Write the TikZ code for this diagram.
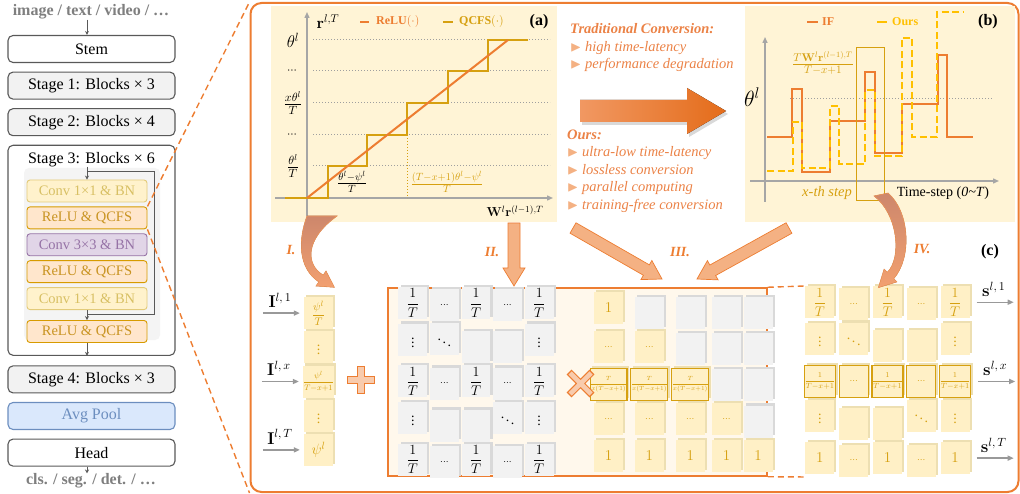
\documentclass[tikz,border=0pt]{standalone}
\usepackage{fix-cm}
\usepackage{amsmath,amssymb}
\usepackage[no-math]{fontspec}
\setmainfont{Liberation Serif}
\usetikzlibrary{arrows.meta,calc,matrix,shadows,positioning}

\definecolor{qorange}{HTML}{ED7D31}
\definecolor{qgold}{RGB}{214,160,16}
\definecolor{qyellow}{HTML}{FFC000}
\definecolor{salmon}{HTML}{F4B183}
\definecolor{plusfill}{HTML}{F8CBAD}
\definecolor{curvetop}{RGB}{205,135,108}
\definecolor{curvebot}{RGB}{242,160,112}
\definecolor{arrowlight}{RGB}{241,152,98}
\definecolor{arrowdark}{RGB}{228,108,26}
\definecolor{cream}{HTML}{FFF8EC}
\definecolor{panelbg}{HTML}{FFF4D6}
\definecolor{cellyel}{HTML}{FFF0C6}
\definecolor{shadeyel}{HTML}{EDDFB2}
\definecolor{cellgray}{HTML}{F2F2F2}
\definecolor{innergray}{HTML}{F4F4F4}
\definecolor{shadegray}{HTML}{D9D9D9}
\definecolor{edgegray}{HTML}{595959}
\definecolor{txtgray}{HTML}{7F7F7F}
\definecolor{axisgray}{HTML}{A6A6A6}
\definecolor{convfill}{HTML}{FFF2CC}
\definecolor{convedge}{HTML}{E3CB7A}
\definecolor{convtxt}{HTML}{D8C064}
\definecolor{relufill}{HTML}{FFE6CC}
\definecolor{reluedge}{HTML}{D79B00}
\definecolor{relutxt}{HTML}{C99422}
\definecolor{purpfill}{HTML}{E1D5E7}
\definecolor{purpedge}{HTML}{9673A6}
\definecolor{poolfill}{HTML}{DAE8FC}
\definecolor{pooledge}{HTML}{6C8EBF}
\definecolor{notetxt}{HTML}{EB8246}

\newcommand{\fsz}[1]{\fontsize{#1}{#1}\selectfont}
\newcommand{\tri}{\textcolor{salmon}{$\blacktriangleright$}}
\newcommand{\tdots}{{\scriptstyle\cdots}}

\begin{document}
\begin{tikzpicture}[x=1pt, y=-1pt, every node/.style={inner sep=0pt},
    stagebox/.style={draw=edgegray, fill=white, line width=1.1pt, rounded corners=5pt,
      minimum width=167pt, minimum height=27pt, font=\fsz{16}},
    blockbox/.style={rounded corners=3pt, line width=0.9pt, minimum width=120pt,
      minimum height=22pt, font=\fsz{14.5}},
    convbox/.style={blockbox, fill=convfill, draw=convedge, text=convtxt},
    relubox/.style={blockbox, fill=relufill, draw=reluedge, text=relutxt},
    purpbox/.style={blockbox, fill=purpfill, draw=purpedge, text=purpedge},
    flow/.style={draw=edgegray, line width=0.8pt, -{Stealth[length=4pt,width=4pt]}},
    zoomline/.style={draw=qorange, line width=1.4pt, dash pattern=on 6pt off 4pt},
    panel/.style={fill=panelbg, minimum height=216pt},
    axisline/.style={draw=axisgray, line width=1.4pt, -{Triangle[length=6pt,width=5pt]}},
    gridline/.style={draw=gray!75, line width=1pt, dotted},
    reluline/.style={draw=qorange, line width=2pt},
    qcfsline/.style={draw=qgold, line width=2.4pt},
    ifline/.style={draw=qorange, line width=2.4pt},
    oursline/.style={draw=qyellow, line width=2.4pt, dash pattern=on 7pt off 3.5pt},
    legendtxt/.style={anchor=west, font=\fsz{12}\bfseries},
    paneltag/.style={font=\fsz{16}\bfseries},
    note/.style={anchor=west, align=left, text=notetxt, font=\fontsize{14.5}{17.5}\selectfont\itshape},
    steplabel/.style={text=qorange, font=\fsz{14}\bfseries\itshape},
    bigarrow/.style={fill=salmon, draw=qorange, line width=0.7pt},
    curvearrow/.style={top color=curvetop, bottom color=curvebot, draw=qorange!80, line width=0.6pt},
    inarrow/.style={draw=gray!80, line width=1.4pt, -{Triangle[length=6pt,width=5pt]}},
    cellmat/.style={matrix of math nodes, nodes in empty cells, column sep=2.8pt, row sep=2.2pt},
    basecell/.style={minimum width=28.8pt, minimum height=32pt, font=\fsz{14}},
    gcell/.style={basecell, fill=cellgray, text=black,
      general shadow={fill=shadegray, shadow xshift=2.2pt, shadow yshift=2.2pt}},
    ycell/.style={basecell, fill=cellyel, text=qgold,
      general shadow={fill=shadeyel, shadow xshift=2.2pt, shadow yshift=2.2pt}},
    hlcell/.style={ycell, draw=qgold, line width=1.1pt, font=\fsz{6}}]
  \useasboundingbox (0,0) rectangle (1020,494);

  % backbone
  \node (input) [text=txtgray, font=\fsz{16}\bfseries] at (91,12) {image / text / video / …};
  \node (stem) [stagebox] at (91.5,49) {Stem};
  \node (stage1) [stagebox, fill=cellgray, below=8.5pt of stem] {Stage 1: Blocks × 3};
  \node (stage2) [stagebox, fill=cellgray, below=8.5pt of stage1] {Stage 2: Blocks × 4};
  \node (stage3) [stagebox, minimum height=210pt, below=8.5pt of stage2] {};
  \node (st3title) [font=\fsz{16}, below=7pt of stage3.north] {Stage 3: Blocks × 6};
  \fill[innergray, rounded corners=5pt] (24,168) rectangle (160,340);
  \node (conv1a) [convbox] at (87,191) {Conv 1×1 \& BN};
  \node (relu1) [relubox, below=4pt of conv1a] {ReLU \& QCFS};
  \node (conv3) [purpbox, below=4pt of relu1] {Conv 3×3 \& BN};
  \node (relu2) [relubox, below=4pt of conv3] {ReLU \& QCFS};
  \node (conv1b) [convbox, below=4pt of relu2] {Conv 1×1 \& BN};
  \node (relu3) [relubox, below=10pt of conv1b] {ReLU \& QCFS};
  \node (stage4) [stagebox, fill=cellgray, below=9.5pt of stage3] {Stage 4: Blocks × 3};
  \node (pool) [stagebox, fill=poolfill, draw=pooledge, text=pooledge, below=8.5pt of stage4] {Avg Pool};
  \node (head) [stagebox, below=8.5pt of pool] {Head};
  \node (output) [text=txtgray, font=\fsz{16}\bfseries] at (91,481) {cls. / seg. / det. / …};

  % backbone arrows
  \draw[flow] (input.south -| conv1a) -- (stem.north -| conv1a);
  \draw[flow] (st3title.south -| conv1a) -- (conv1a);
  \coordinate (split) at ($(conv1a.north)+(0,-8)$);
  \coordinate (merge) at ($(conv1b.south)+(0,4)$);
  \draw[draw=edgegray, line width=0.8pt] (split) -| ($(conv1b.south east)+(7,4)$) -- (merge);
  \draw[flow] (conv1b) -- (relu3);
  \draw[flow] (relu3) -- (stage3.south -| relu3);
  \draw[flow] (head.south -| conv1a) -- (output.north -| conv1a);

  % zoom-in frame
  \node (frame) [draw=qorange, line width=2pt, rounded corners=11pt,
    minimum width=768pt, minimum height=489pt] at (634.5,247.5) {};
  \draw[zoomline] (relu1.north east) -- (frame.north west);
  \draw[zoomline] (relu1.south east) -- (frame.south west);

  % (a) ReLU vs QCFS
  \node (pa) [panel, minimum width=286pt] at (414,114) {};
  \foreach \y in {40,71,103,135,166} \draw[gridline] (313,\y) -- (550,\y);
  \draw[axisline] (275,198) -- (553,198);
  \draw[axisline] (307,216) -- (307,12);
  \draw[qcfsline] (285,198) -- (328,198) |- (367,166) |- (407,135) |- (448,103) |- (488,71) |- (528,40);
  \draw[reluline] (307,198) -- (508,40);
  \draw[qgold, line width=1pt, dotted] (407,135) -- (407,198);
  \foreach \y/\lab [count=\i] in {40/{\theta^l}, 71/{\scriptstyle\cdots}, 103/{\frac{x\theta^l}{T}}, 135/{\scriptstyle\cdots}, 166/{\frac{\theta^l}{T}}}
    \node (ylab\i) [font=\fsz{17}] at (293,\y) {$\lab$};
  \node (rlab) [font=\fsz{16}] at (328,22) {$\mathbf{r}^{l,T}$};
  \node (wlab) [font=\fsz{13}] at (515,211) {$\mathbf{W}^l\mathbf{r}^{(l-1),T}$};
  \node (flab1) [font=\fsz{15}] at (352,182) {$\frac{\theta^l-\psi^l}{T}$};
  \node (flab2) [font=\fsz{15}, text=qgold] at (447,182) {$\frac{(T-x+1)\theta^l-\psi^l}{T}$};
  \draw[reluline] (360,22) -- (369,22);
  \node (lrelu) [legendtxt, text=qorange] at (376,22) {ReLU$(\cdot)$};
  \draw[qcfsline] (443,22) -- (453,22);
  \node (lqcfs) [legendtxt, text=qgold] at (459,22) {QCFS$(\cdot)$};
  \node (taga) [paneltag] at (539,22) {(a)};

  % conversion notes
  \node (trad) [note] at (570,48) {\textbf{Traditional Conversion:}\\\tri\ high time-latency\\\tri\ performance degradation};
  \node (ours) [note] at (567,171) {\textbf{Ours:}\\\tri\ ultra-low time-latency\\\tri\ lossless conversion\\\tri\ parallel computing\\\tri\ training-free conversion};
  \fill[left color=arrowlight, right color=arrowdark,
    drop shadow={opacity=0.3, shadow xshift=2pt, shadow yshift=-3pt}]
    (580,100) -- (687,100) -- (687,88) -- (726,111) -- (687,134) -- (687,122) -- (580,122) -- cycle;

  % (b) IF neuron vs ours
  \node (pb) [panel, minimum width=270pt] at (880,114) {};
  \draw[gridline] (790,99) -- (992,99);
  \draw[axisline] (750,181) -- (999,181);
  \draw[axisline] (765,202) -- (765,37);
  \draw[ifline] (767,137) -| (792,89) -| (802,172) -| (830,121) -| (865,72) -| (875,153)
    -| (902,104) -| (938,55) -| (947,137) -- (973,137);
  \draw[oursline] (767,171) -| (793,122) -| (802,168) -| (830,106) -| (839,164) -| (865,90)
    -| (875,156) -| (902,38) -| (912,137) -| (937,12) -- (963,12);
  \draw[qgold, line width=0.9pt] (856,47) rectangle (884,200);
  \node (frb) [font=\fsz{16}, text=qgold] at (823,63) {$\frac{T\mathbf{W}^l\mathbf{r}^{(l-1),T}}{T-x+1}$};
  \node (thb) [font=\fsz{22}] at (752,97) {$\theta^l$};
  \node (xstep) [font=\fsz{14.5}\itshape, text=qgold] at (827,193) {x-th step};
  \node (tstep) [font=\fsz{14}] at (943,193) {Time-step (\textit{0\textasciitilde T})};
  \draw[ifline] (807,22) -- (818,22);
  \node (lif) [legendtxt, text=qorange] at (822,22) {IF};
  \draw[qyellow, line width=2.4pt] (877,22) -- (887,22);
  \node (lours) [legendtxt, text=qyellow] at (892,22) {Ours};
  \node (tagb) [paneltag] at (988,22) {(b)};

  % (c) parallel conversion
  \node (mbox) [draw=qorange, fill=cream, line width=1.5pt, minimum width=379pt,
    minimum height=188pt] at (577.5,382) {};
  \matrix (vec) [cellmat, nodes={ycell}] at (318.5,381.5) {
    |[font=\fsz{11}]| \dfrac{\psi^l}{T} \\
    \vdots \\
    |[font=\fsz{8}]| \dfrac{\psi^l}{T{-}x{+}1} \\
    \vdots \\
    |[font=\fsz{15}]| \psi^l \\
  };
  \matrix (m1) [cellmat, nodes={gcell}] at (476,382.5) {
    \dfrac{1}{T} & \tdots & \dfrac{1}{T} & \tdots & \dfrac{1}{T} \\
    \vdots & \ddots & & & \vdots \\
    \dfrac{1}{T} & \tdots & \dfrac{1}{T} & \tdots & \dfrac{1}{T} \\
    \vdots & & & \ddots & \vdots \\
    \dfrac{1}{T} & \tdots & \dfrac{1}{T} & \tdots & \dfrac{1}{T} \\
  };
  \matrix (m2) [cellmat, nodes={ycell}] at (681,382) {
    |[font=\fsz{15}]| 1 & |[gcell]| & |[gcell]| & |[gcell]| & |[gcell]| \\
    \tdots & \tdots & |[gcell]| & |[gcell]| & |[gcell]| \\
    |[hlcell]| \dfrac{T}{x(T{-}x{+}1)} & |[hlcell]| \dfrac{T}{x(T{-}x{+}1)} & |[hlcell]| \dfrac{T}{x(T{-}x{+}1)} & |[gcell]| & |[gcell]| \\
    \tdots & \tdots & \tdots & \tdots & |[gcell]| \\
    |[font=\fsz{15}]| 1 & |[font=\fsz{15}]| 1 & |[font=\fsz{15}]| 1 & |[font=\fsz{15}]| 1 & |[font=\fsz{15}]| 1 \\
  };
  \matrix (m3) [cellmat, nodes={ycell}] at (887.5,381.5) {
    \dfrac{1}{T} & \tdots & \dfrac{1}{T} & \tdots & \dfrac{1}{T} \\
    \vdots & \ddots & & & \vdots \\
    |[hlcell, font=\fsz{7.5}]| \dfrac{1}{T{-}x{+}1} & |[hlcell, font=\fsz{14}]| \tdots & |[hlcell, font=\fsz{7.5}]| \dfrac{1}{T{-}x{+}1} & |[hlcell, font=\fsz{14}]| \tdots & |[hlcell, font=\fsz{7.5}]| \dfrac{1}{T{-}x{+}1} \\
    \vdots & & & \ddots & \vdots \\
    |[font=\fsz{15}]| 1 & \tdots & |[font=\fsz{15}]| 1 & \tdots & |[font=\fsz{15}]| 1 \\
  };
  \draw[zoomline] (mbox.north east) -- (m3.north west);
  \draw[zoomline] (mbox.south east) -- (m3.south west);

  % plus and times
  \draw[qorange, line width=8.5pt] (347,380) -- (375,380) (361,366) -- (361,394);
  \draw[plusfill, line width=6pt] (348.2,380) -- (373.8,380) (361,367.2) -- (361,392.8);
  \draw[qorange, line width=7pt] (569,372) -- (592,395) (592,372) -- (569,395);
  \draw[plusfill, line width=4.6pt] (570,373) -- (591,394) (591,373) -- (570,394);

  % inputs and outputs
  \foreach \r/\s in {1/{1}, 3/{x}, 5/{T}} {
    \node (in\r) [font=\fsz{17}] at ($(vec-\r-1.west)+(-24,-13)$) {$\mathbf{I}^{l,\,\s}$};
    \draw[inarrow] ($(vec-\r-1.west)+(-41,0)$) -- ($(vec-\r-1.west)+(-4,0)$);
    \node (out\r) [font=\fsz{17}] at ($(m3-\r-5.east)+(24,-13)$) {$\mathbf{s}^{l,\,\s}$};
    \draw[inarrow] ($(m3-\r-5.east)+(7,0)$) -- ($(m3-\r-5.east)+(44,0)$);
  }

  % arrows I-IV
  \filldraw[curvearrow] (307,216) .. controls (298,240) and (298,268) .. (318.8,281.9)
    -- (316,286) -- (334.4,287.3) -- (326,271) -- (323.2,275.1)
    .. controls (306,265) and (304,240) .. (337,216) -- cycle;
  \filldraw[curvearrow] (874,196) .. controls (898,214) and (902,258) .. (887.3,272.3)
    -- (884.1,269.1) -- (878.4,287.6) -- (896.9,281.9) -- (893.7,278.7)
    .. controls (912,258) and (910,212) .. (888,193) -- cycle;
  \coordinate (IIs) at (514,223);
  \coordinate (IIe) at (514,286);
  \coordinate (IIIas) at (573,228);
  \coordinate (IIIae) at (662,279);
  \coordinate (IIIbs) at (789,228);
  \coordinate (IIIbe) at (697,279);
  \foreach \s/\e in {IIs/IIe, IIIas/IIIae, IIIbs/IIIbe} {
    \coordinate (hd) at ($(\e)!18pt!(\s)$);
    \filldraw[bigarrow] ($(\s)!6pt!90:(\e)$) -- ($(hd)!6pt!90:(\e)$) -- ($(hd)!11pt!90:(\e)$) -- (\e)
      -- ($(hd)!11pt!-90:(\e)$) -- ($(hd)!6pt!-90:(\e)$) -- ($(\s)!6pt!-90:(\e)$) -- cycle;
  }
  \node (lI) [steplabel] at (291,250) {I.};
  \node (lII) [steplabel] at (492,252) {II.};
  \node (lIII) [steplabel] at (680,252) {III.};
  \node (lIV) [steplabel] at (922,249) {IV.};
  \node (tagc) [paneltag] at (990,252) {(c)};
\end{tikzpicture}
\end{document}
